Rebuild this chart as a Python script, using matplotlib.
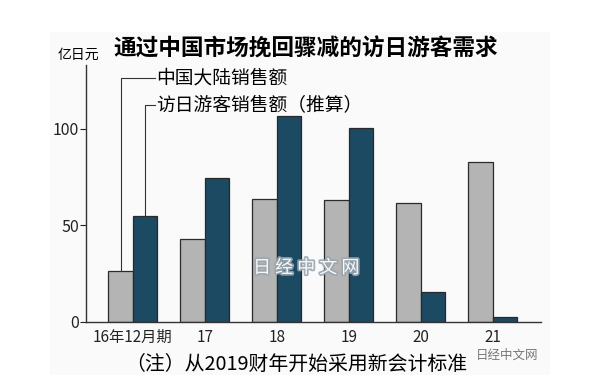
import numpy as np
import matplotlib
matplotlib.use("Agg")
import matplotlib.pyplot as plt
import matplotlib.patheffects as pe
from matplotlib.patches import Rectangle

plt.rcParams['font.family'] = ['Noto Sans CJK SC', 'DejaVu Sans']

# data (亿日元)
periods = ["16年12月期", "17", "18", "19", "20", "21"]
mainland = [26.6, 42.7, 63.7, 62.9, 61.7, 82.7]
visitors = [54.6, 74.6, 106.7, 100.5, 15.7, 2.7]
yticks = [0, 50, 100]

title = "通过中国市场挽回骤减的访日游客需求"
label_mainland = "中国大陆销售额"
label_visitors = "访日游客销售额（推算）"
note = "（注）从2019财年开始采用新会计标准"

gray = "#b4b4b4"
teal = "#1b4a62"
edge = "#2a2a2a"

fig = plt.figure(figsize=(6, 3.91), dpi=100)
fig.patches.append(Rectangle((50 / 600, 16 / 391), 500 / 600, 343 / 391,
                             transform=fig.transFigure, facecolor="#fafafa",
                             edgecolor="none", zorder=-5))
ax = fig.add_axes([86 / 600, 69 / 391, 455 / 600, 257 / 391])
ax.patch.set_alpha(0)

x = np.arange(len(periods))
w = 0.34
ax.bar(x - w / 2, mainland, w, color=gray, edgecolor=edge, linewidth=0.9, zorder=2)
ax.bar(x + w / 2, visitors, w, color=teal, edgecolor=edge, linewidth=0.9, zorder=2)

ax.set_xlim(-0.65, 5.67)
ax.set_ylim(0, 133)
for s in ["top", "right"]:
    ax.spines[s].set_visible(False)
for s in ["left", "bottom"]:
    ax.spines[s].set_color("#333333")
    ax.spines[s].set_linewidth(1.0)

ax.set_yticks(yticks)
ax.set_yticklabels([str(v) for v in yticks], fontsize=11.5)
ax.tick_params(axis="y", length=4, width=0.8, pad=1, colors="#222222")
ax.set_xticks(x)
ax.set_xticklabels(periods, fontsize=11)
ax.tick_params(axis="x", length=0, pad=5, colors="#222222")

# leader lines from the legend labels down to the first bars
y1, y2 = 126.4, 112.4
lx = 0.31
ax.plot([x[0] - w / 2, x[0] - w / 2, lx], [mainland[0], y1, y1],
        color="#333333", lw=0.8, clip_on=False, zorder=3)
ax.plot([x[0] + w / 2, x[0] + w / 2, lx], [visitors[0], y2, y2],
        color="#333333", lw=0.8, clip_on=False, zorder=3)
ax.text(lx + 0.01, y1, label_mainland, fontsize=13.5, va="center", ha="left")
ax.text(lx + 0.01, y2, label_visitors, fontsize=13.5, va="center", ha="left")

fig.text(78 / 600, 1 - 55 / 391, "亿日元", fontsize=10, ha="center", va="center")
fig.text(306 / 600, 1 - 49 / 391, title, fontsize=16.3, fontweight="bold",
         ha="center", va="center")
fig.text(296 / 600, 1 - 364 / 391, note, fontsize=14.3, ha="center", va="center")

# watermarks
fig.text(306 / 600, 1 - 268 / 391, "日 经 中 文 网", fontsize=13, color="white",
         ha="center", va="center", alpha=0.9,
         path_effects=[pe.withStroke(linewidth=2.5, foreground="#9aa6b0")])
fig.text(507 / 600, 1 - 355 / 391, "日经中文网", fontsize=9, color="#777777",
         ha="center", va="center")

fig.savefig("out.png", dpi=100)
